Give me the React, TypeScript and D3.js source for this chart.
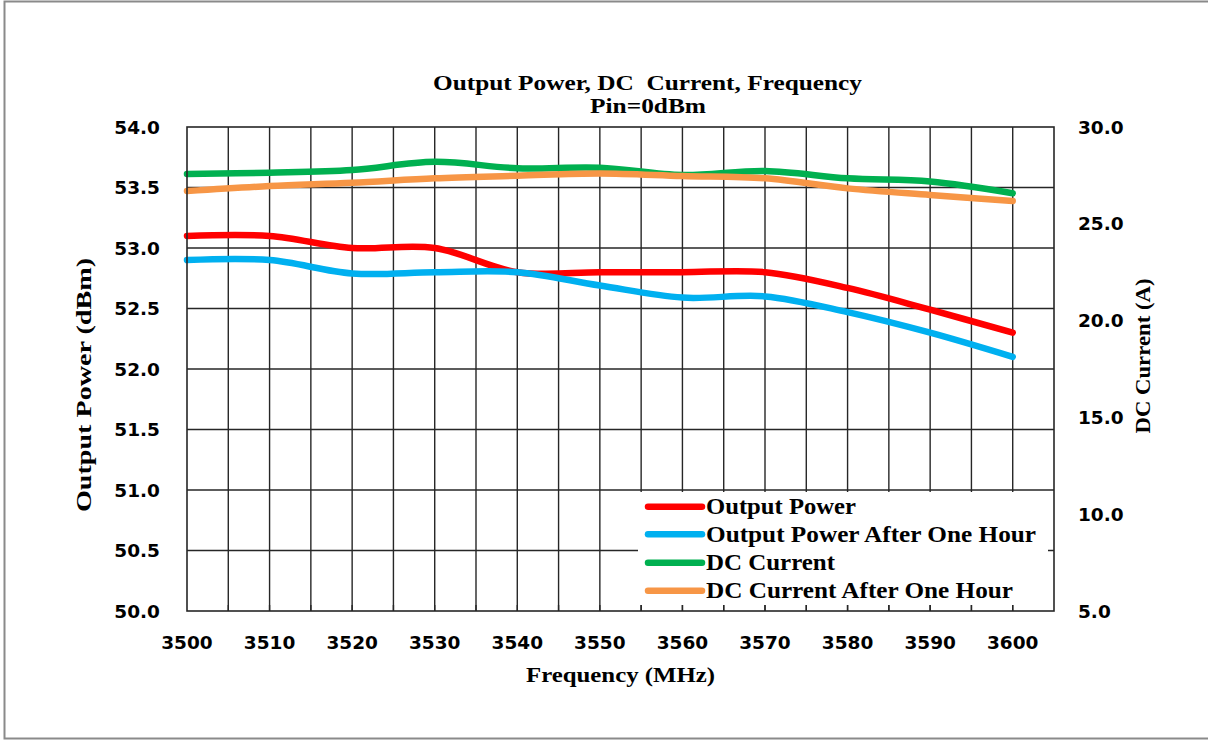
import React from "react";
import * as d3 from "d3";

const freqs = [3500, 3510, 3520, 3530, 3540, 3550, 3560, 3570, 3580, 3590, 3600];
const outputPower = [53.1, 53.1, 53.0, 53.0, 52.8, 52.8, 52.8, 52.8, 52.67, 52.49, 52.3];
const outputPowerHour = [52.9, 52.9, 52.79, 52.8, 52.8, 52.69, 52.59, 52.6, 52.47, 52.3, 52.1];
const dcCurrent = [27.57, 27.64, 27.78, 28.2, 27.87, 27.9, 27.52, 27.73, 27.35, 27.18, 26.58];
const dcCurrentHour = [26.69, 26.95, 27.12, 27.35, 27.48, 27.6, 27.47, 27.35, 26.83, 26.49, 26.18];

const xTicks = [3500, 3510, 3520, 3530, 3540, 3550, 3560, 3570, 3580, 3590, 3600];
const leftTicks = [50.0, 50.5, 51.0, 51.5, 52.0, 52.5, 53.0, 53.5, 54.0];
const rightTicks = [5.0, 10.0, 15.0, 20.0, 25.0, 30.0];

const seriesNames = ["Output Power", "Output Power After One Hour", "DC Current", "DC Current After One Hour"];
const seriesColors = ["#FF0000", "#00B0F0", "#00B050", "#F79646"];
const legendWidths = [150, 330, 129, 307];

const W = 1208;
const H = 740;
const left = 187;
const right = 1054;
const top = 127;
const bottom = 611;

const serif = "'Liberation Serif', 'Times New Roman', serif";
const sans = "'DejaVu Sans', Verdana, sans-serif";

export default function App() {
  const x = d3.scaleLinear().domain([3500, 3605]).range([left, right]);
  const yL = d3.scaleLinear().domain([50, 54]).range([bottom, top]);
  const yR = d3.scaleLinear().domain([5, 30]).range([bottom, top]);

  const mk = (scale: d3.ScaleLinear<number, number>, vals: number[]) =>
    d3
      .line<number>()
      .x((_, i) => x(freqs[i]))
      .y((v) => scale(v))
      .curve(d3.curveCardinal.tension(0))(vals) || "";

  const paths = [
    mk(yL, outputPower),
    mk(yL, outputPowerHour),
    mk(yR, dcCurrent),
    mk(yR, dcCurrentHour),
  ];

  const vGrid = d3.range(3505, 3605, 5);
  const hGrid = d3.range(50.5, 54, 0.5);

  const legX = 638;
  const legY = 492;
  const legRowY = [506.7, 534.3, 562.7, 590.7];

  return (
    <svg
      width={W}
      height={H}
      style={{ position: "absolute", left: 0, top: 0, background: "#fff" }}
    >
      <rect x={0} y={0} width={W} height={H} fill="#fff" />
      <rect x={4.5} y={1.5} width={W + 10} height={737} fill="none" stroke="#8a8a8a" strokeWidth={2} />

      {/* title */}
      <text
        x={647.5}
        y={89.5}
        textAnchor="middle"
        fontFamily={serif}
        fontWeight="bold"
        fontSize={22}
        textLength={429}
        lengthAdjust="spacingAndGlyphs"
        style={{ whiteSpace: "pre" }}
      >
        {"Output Power, DC  Current, Frequency"}
      </text>
      <text
        x={648}
        y={113}
        textAnchor="middle"
        fontFamily={serif}
        fontWeight="bold"
        fontSize={22}
        textLength={116}
        lengthAdjust="spacingAndGlyphs"
      >
        Pin=0dBm
      </text>

      {/* gridlines */}
      {vGrid.map((f) => (
        <line key={"v" + f} x1={x(f)} x2={x(f)} y1={top} y2={bottom} stroke="#262626" strokeWidth={1.4} />
      ))}
      {hGrid.map((v) => (
        <line key={"h" + v} x1={left} x2={right} y1={yL(v)} y2={yL(v)} stroke="#262626" strokeWidth={1.4} />
      ))}

      {/* series */}
      {paths.map((d, i) => (
        <path
          key={"s" + i}
          d={d}
          fill="none"
          stroke={seriesColors[i]}
          strokeWidth={6.5}
          strokeLinecap="round"
          strokeLinejoin="round"
        />
      ))}

      {/* legend */}
      <rect x={legX} y={legY} width={410} height={113} fill="#fff" />
      {seriesNames.map((n, i) => (
        <g key={"l" + i}>
          <line
            x1={648}
            x2={702}
            y1={legRowY[i]}
            y2={legRowY[i]}
            stroke={seriesColors[i]}
            strokeWidth={6.5}
            strokeLinecap="round"
          />
          <text
            x={706}
            y={legRowY[i] + 7.3}
            fontFamily={serif}
            fontWeight="bold"
            fontSize={23}
            textLength={legendWidths[i]}
            lengthAdjust="spacingAndGlyphs"
          >
            {n}
          </text>
        </g>
      ))}

      {/* bottom tick marks */}
      {vGrid.map((f) => (
        <line key={"t" + f} x1={x(f)} x2={x(f)} y1={bottom - 6} y2={bottom} stroke="#262626" strokeWidth={1.4} />
      ))}

      {/* plot border */}
      <rect x={left} y={top} width={right - left} height={bottom - top} fill="none" stroke="#262626" strokeWidth={1.6} />

      {/* left ticks */}
      {leftTicks.map((v) => (
        <text
          key={"yl" + v}
          x={160}
          y={yL(v)}
          dy="0.36em"
          textAnchor="end"
          fontFamily={sans}
          fontWeight="bold"
          fontSize={18.5}
        >
          {v.toFixed(1)}
        </text>
      ))}
      {/* right ticks */}
      {rightTicks.map((v) => (
        <text
          key={"yr" + v}
          x={1078}
          y={yR(v)}
          dy="0.36em"
          textAnchor="start"
          fontFamily={sans}
          fontWeight="bold"
          fontSize={18.5}
        >
          {v.toFixed(1)}
        </text>
      ))}
      {/* x ticks */}
      {xTicks.map((f) => (
        <text
          key={"x" + f}
          x={x(f)}
          y={649}
          textAnchor="middle"
          fontFamily={sans}
          fontWeight="bold"
          fontSize={18.5}
        >
          {f}
        </text>
      ))}

      {/* axis titles */}
      <text
        x={620.5}
        y={681.5}
        textAnchor="middle"
        fontFamily={serif}
        fontWeight="bold"
        fontSize={22}
        textLength={189}
        lengthAdjust="spacingAndGlyphs"
      >
        Frequency (MHz)
      </text>
      <text
        transform="translate(91,385) rotate(-90)"
        textAnchor="middle"
        fontFamily={serif}
        fontWeight="bold"
        fontSize={22}
        textLength={254}
        lengthAdjust="spacingAndGlyphs"
      >
        Output Power (dBm)
      </text>
      <text
        transform="translate(1150,356) rotate(-90)"
        textAnchor="middle"
        fontFamily={serif}
        fontWeight="bold"
        fontSize={21}
        textLength={155}
        lengthAdjust="spacingAndGlyphs"
      >
        DC Current (A)
      </text>
    </svg>
  );
}
